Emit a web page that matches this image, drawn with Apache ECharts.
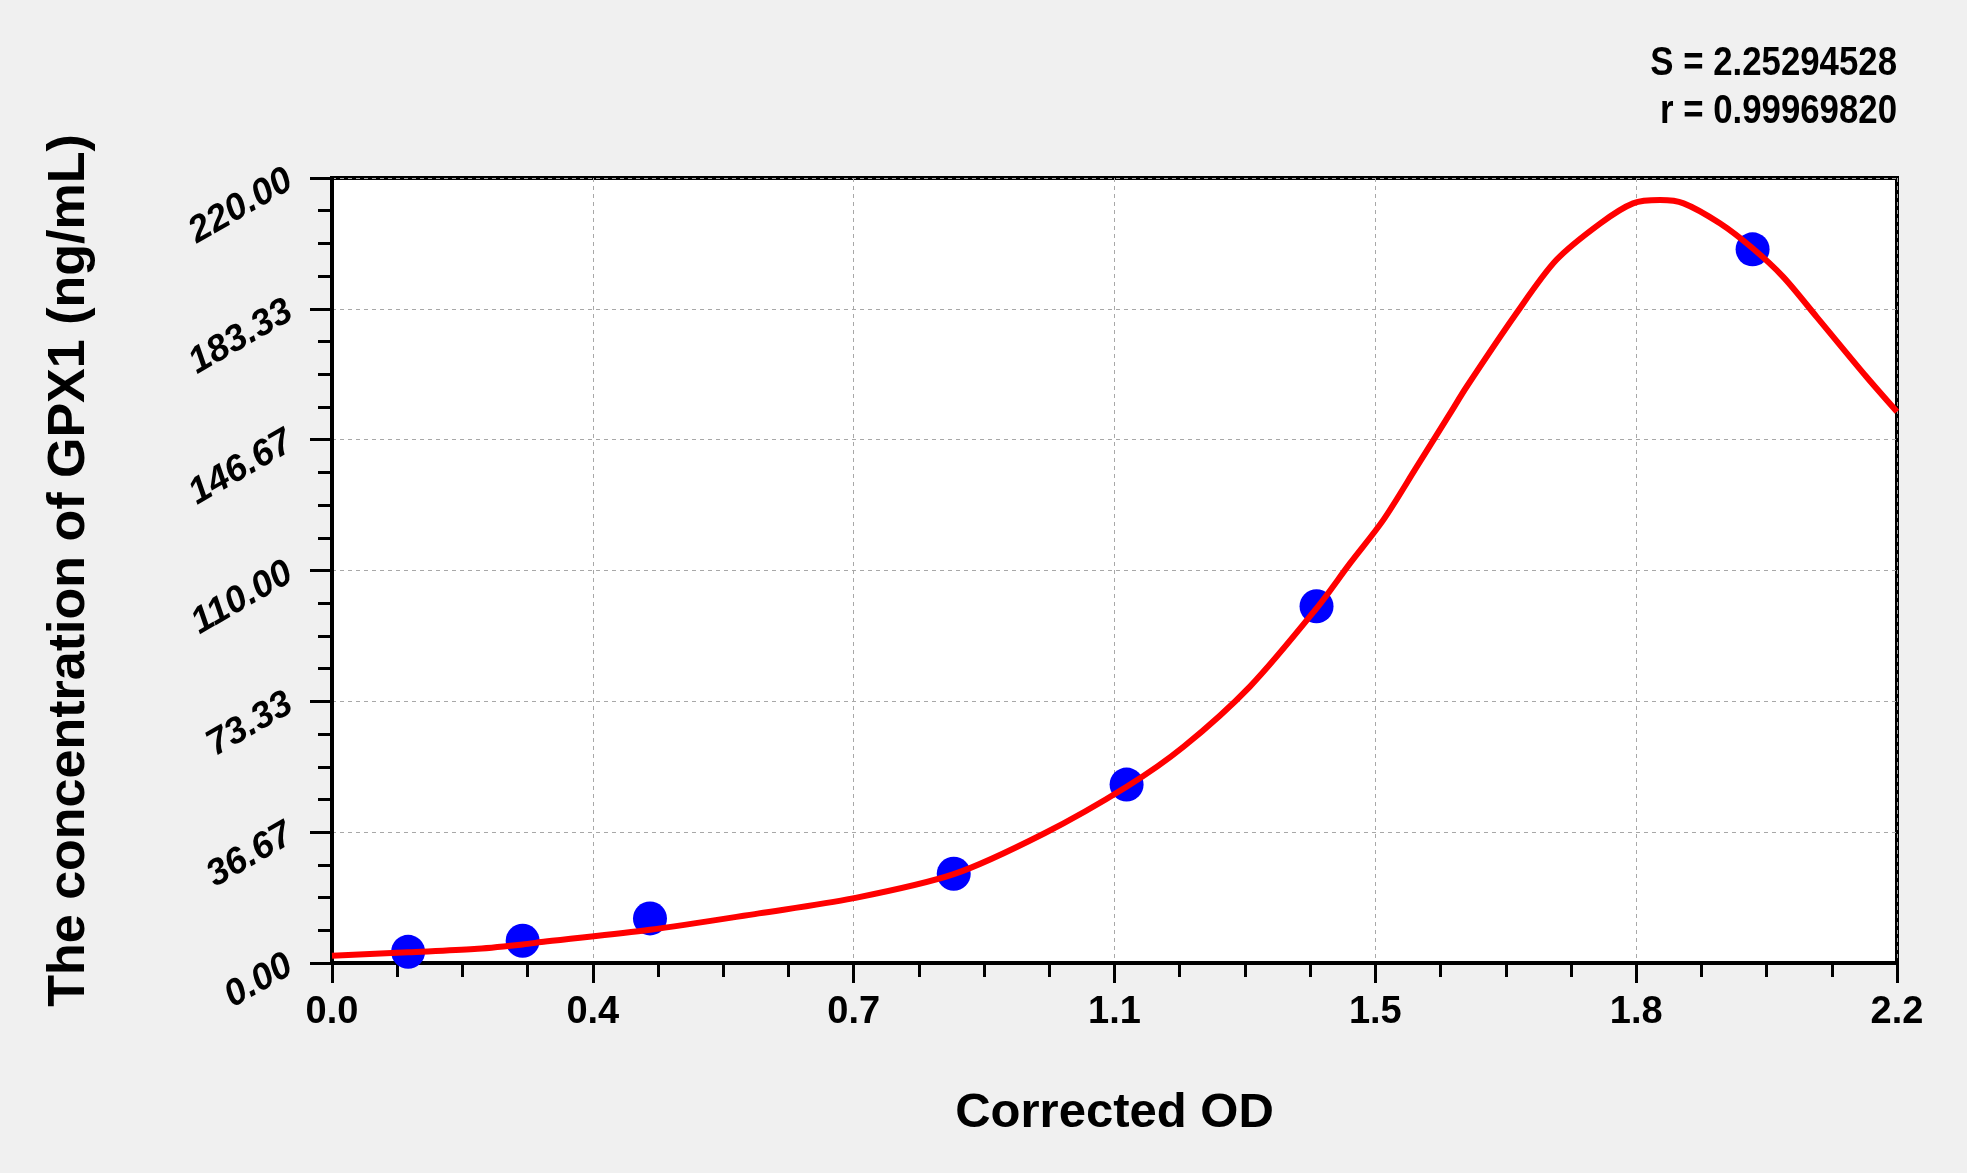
<!DOCTYPE html>
<html>
<head>
<meta charset="utf-8">
<title>GPX1 standard curve</title>
<script src="https://cdn.jsdelivr.net/npm/echarts@6/dist/echarts.min.js"></script>
<style>
  html, body { margin: 0; padding: 0; background: #f0f0f0; }
  #main { width: 1967px; height: 1173px; }
</style>
</head>
<body>
<div id="main"></div>
<script>
// standard points (corrected OD vs concentration)
var pointOD = [0.107, 0.268, 0.447, 0.874, 1.117, 1.384, 1.997];
var pointConc = [3.125, 6.25, 12.5, 25, 50, 100, 200];

// fitted curve
var curveOD = [0.0, 0.107, 0.2, 0.268, 0.3, 0.447, 0.6, 0.732, 0.874, 1.001, 1.117, 1.197, 1.29,
               1.384, 1.431, 1.478, 1.525, 1.572, 1.595, 1.665, 1.721, 1.783, 1.829, 1.867, 1.9, 1.951,
               1.997, 2.04, 2.087, 2.157, 2.2];
var curveConc = [2.0, 3.0, 3.9, 5.2, 6.0, 9.3, 13.9, 18.1, 24.9, 36.3, 49.4, 60.6, 77.4,
                 99.4, 112, 124.2, 139.1, 154.1, 161.5, 182.1, 197, 207.3, 212.9, 213.8, 212.9, 207.3,
                 200.3, 192.3, 181.1, 164.3, 154.5];

var xTickLabels = ['0.0', '0.4', '0.7', '1.1', '1.5', '1.8', '2.2'];
var yTickLabels = ['0.00', '36.67', '73.33', '110.00', '146.67', '183.33', '220.00'];
var xMax = 2.2, yMax = 220;
var fitText = ['S = 2.25294528', 'r = 0.99969820'];

var FONT = '"Liberation Sans", Arial, sans-serif';

var pts = pointOD.map(function (x, i) { return [x, pointConc[i]]; });
var curve = curveOD.map(function (x, i) { return [x, curveConc[i]]; });

var xStep = xMax / (xTickLabels.length - 1);
var yStep = yMax / (yTickLabels.length - 1);

var chart = echarts.init(document.getElementById('main'));
chart.setOption({
    backgroundColor: '#f0f0f0',
    animation: false,
    grid: {
        left: 332, right: 70, top: 178, bottom: 210,
        show: true,
        backgroundColor: '#ffffff',
        borderColor: '#000',
        borderWidth: 4
    },
    xAxis: {
        type: 'value',
        min: 0, max: xMax, interval: xStep,
        name: 'Corrected OD',
        nameLocation: 'middle',
        nameGap: 126,
        nameTextStyle: { fontFamily: FONT, fontWeight: 'bold', fontSize: 49, color: '#000' },
        axisLine: { lineStyle: { color: '#000', width: 4 } },
        axisTick: { length: 20, lineStyle: { color: '#000', width: 3 } },
        minorTick: { show: true, splitNumber: 4, length: 14, lineStyle: { color: '#000', width: 3 } },
        splitLine: { show: true, lineStyle: { color: '#a8a8a8', type: [4, 4], width: 1 } },
        axisLabel: {
            margin: 31,
            fontFamily: FONT, fontWeight: 'bold', fontSize: 38, color: '#000',
            formatter: function (v) { return xTickLabels[Math.round(v / xStep)]; }
        }
    },
    yAxis: {
        type: 'value',
        min: 0, max: yMax, interval: yStep,
        name: 'The concentration of GPX1 (ng/mL)',
        nameLocation: 'middle',
        nameGap: 236,
        nameRotate: 90,
        nameTextStyle: { fontFamily: FONT, fontWeight: 'bold', fontSize: 52, color: '#000' },
        axisLine: { lineStyle: { color: '#000', width: 4 } },
        axisTick: { length: 22, lineStyle: { color: '#000', width: 3 } },
        minorTick: { show: true, splitNumber: 4, length: 14, lineStyle: { color: '#000', width: 3 } },
        splitLine: { show: true, lineStyle: { color: '#a8a8a8', type: [4, 4], width: 1 } },
        axisLabel: {
            margin: 42,
            rotate: 30,
            fontFamily: FONT, fontWeight: 'bold', fontStyle: 'italic', fontSize: 37, color: '#000',
            formatter: function (v) { return yTickLabels[Math.round(v / yStep)]; }
        }
    },
    graphic: [
        { type: 'text', x: 1897, y: 64, scaleX: 0.87,
          style: { text: fitText[0], font: 'bold 40px ' + FONT, fill: '#000',
                   textAlign: 'right', textVerticalAlign: 'middle' } },
        { type: 'text', x: 1897, y: 112, scaleX: 0.87,
          style: { text: fitText[1], font: 'bold 40px ' + FONT, fill: '#000',
                   textAlign: 'right', textVerticalAlign: 'middle' } }
    ],
    series: [
        {
            type: 'scatter',
            data: pts,
            symbol: 'circle',
            symbolSize: 34,
            itemStyle: { color: '#0000ff', opacity: 1 },
            z: 2
        },
        {
            type: 'line',
            data: curve,
            smooth: 0.3,
            showSymbol: false,
            lineStyle: { color: '#ff0000', width: 6 },
            z: 3
        }
    ]
});
</script>
</body>
</html>
